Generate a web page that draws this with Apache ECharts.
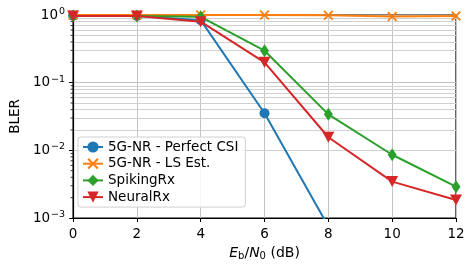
<!DOCTYPE html>
<html><head><meta charset="utf-8">
<script src="https://cdn.jsdelivr.net/npm/echarts@6/dist/echarts.min.js"></script>
<style>html,body{margin:0;padding:0;background:#fff}#c{width:475px;height:270px}</style>
</head><body><div id="c"></div>
<script>
const snr = [0, 2, 4, 6, 8, 10, 12];
const perfectCSI = [0.98, 0.97, 0.84, 0.0353, 0.00075];
const lsEst = [1.0, 1.0, 1.0, 1.0, 0.99, 0.95, 0.97];
const spikingRx = [0.97, 0.97, 0.94, 0.297, 0.034, 0.0086, 0.0029];
const neuralRx = [0.97, 0.97, 0.796, 0.2, 0.0156, 0.00345, 0.00185];
const xTicks = [0, 2, 4, 6, 8, 10, 12];
const minorVals = [];
for (let d = -3; d < 0; d++) for (let m = 2; m <= 9; m++) minorVals.push(m * Math.pow(10, d));

const FONT = 'DejaVu Sans';
function pair(arr){ return arr.map((v,i)=>[snr[i], v]); }
const chart = echarts.init(document.getElementById('c'));
const xPath = 'path://M0,1.3L1.3,0L5,3.7L8.7,0L10,1.3L6.3,5L10,8.7L8.7,10L5,6.3L1.3,10L0,8.7L3.7,5Z';
chart.setOption({
  animation: false,
  textStyle: {fontFamily: FONT},
  grid: {left: 72, right: 19, top: 15, bottom: 52, show: true, borderColor: '#000', borderWidth: 1.2, backgroundColor: 'transparent'},
  xAxis: {
    type: 'value', min: 0, max: 12, interval: 2,
    name: '{i|E}{s|b}{n|/}{i|N}{s|0}{n| (dB)}', nameLocation: 'middle', nameGap: 27,
    nameTextStyle: {rich: {
      i: {fontFamily: FONT, fontSize: 14, fontStyle: 'italic', color: '#000'},
      n: {fontFamily: FONT, fontSize: 14, color: '#000'},
      s: {fontFamily: FONT, fontSize: 10, color: '#000', padding: [6, 0, 0, 0]}
    }},
    axisLine: {lineStyle: {color: '#000', width: 1.2}},
    axisTick: {show: true, length: 4, lineStyle: {color: '#000', width: 1}},
    axisLabel: {color: '#000', fontSize: 13.5, fontFamily: FONT, margin: 9},
    splitLine: {show: true, lineStyle: {color: '#c4c4c4', width: 1}}
  },
  yAxis: {
    type: 'log', logBase: 10, min: 0.001, max: 1,
    name: 'BLER', nameLocation: 'middle', nameGap: 45, nameRotate: 90,
    nameTextStyle: {color: '#000', fontSize: 13.5, fontFamily: FONT},
    axisLine: {show: true, lineStyle: {color: '#000', width: 1.2}},
    axisTick: {show: true, length: 4, lineStyle: {color: '#000', width: 1}},
    axisLabel: {color: '#000', fontSize: 13, fontFamily: FONT, margin: 8,
      formatter: function(v){ const e = Math.round(Math.log10(v)); return '{b|10}{s|' + (e === 0 ? '0' : '\u2212' + (-e)) + '}'; },
      rich: {b: {fontSize: 13.5, fontFamily: FONT, color: '#000'}, s: {fontSize: 9.5, fontFamily: FONT, color: '#000', padding: [0, 0, 7, 1]}}
    },
    splitLine: {show: true, lineStyle: {color: '#c4c4c4', width: 1}}
  },
  legend: {
    orient: 'vertical', left: 78, top: 137, itemGap: 2.7, itemWidth: 20, itemHeight: 14,
    padding: [3, 7, 3, 4],
    backgroundColor: 'rgba(255,255,255,0.85)', borderColor: '#d0d0d0', borderWidth: 1, borderRadius: 3,
    textStyle: {color: '#000', fontSize: 13.5, fontFamily: FONT, padding: [0, 0, 0, 0]},
    data: ['5G-NR - Perfect CSI', '5G-NR - LS Est.', 'SpikingRx', 'NeuralRx']
  },
  series: [
    {name: 'minor', type: 'line', data: [], silent: true, z: 0,
     markLine: {silent: true, symbol: 'none', label: {show: false}, animation: false, z: 0,
       lineStyle: {color: '#d0d0d0', width: 1, type: 'solid'},
       data: minorVals.map(v => ({yAxis: v}))}},
    {name: '5G-NR - Perfect CSI', type: 'line', data: pair(perfectCSI), color: '#1f77b4',
     symbol: 'circle', symbolSize: 10, lineStyle: {width: 2}, clip: true, z: 3},
    {name: '5G-NR - LS Est.', type: 'line', data: pair(lsEst), color: '#ff7f0e',
     symbol: xPath, symbolSize: 10, lineStyle: {width: 2}, clip: false, z: 4},
    {name: 'SpikingRx', type: 'line', data: pair(spikingRx), color: '#2ca02c',
     symbol: 'diamond', symbolSize: [9, 13], lineStyle: {width: 2}, clip: true, z: 5},
    {name: 'NeuralRx', type: 'line', data: pair(neuralRx), color: '#d62728',
     symbol: 'triangle', symbolRotate: 180, symbolSize: [12, 11], lineStyle: {width: 2}, clip: true, z: 6}
  ]
});
const g = [];
minorVals.forEach(v => {
  const p = chart.convertToPixel({gridIndex: 0}, [0, v]);
  g.push({type: 'line', shape: {x1: p[0] - 2.5, y1: p[1], x2: p[0], y2: p[1]}, style: {stroke: '#000', lineWidth: 0.8}, silent: true});
});
chart.setOption({graphic: g});
</script></body></html>
